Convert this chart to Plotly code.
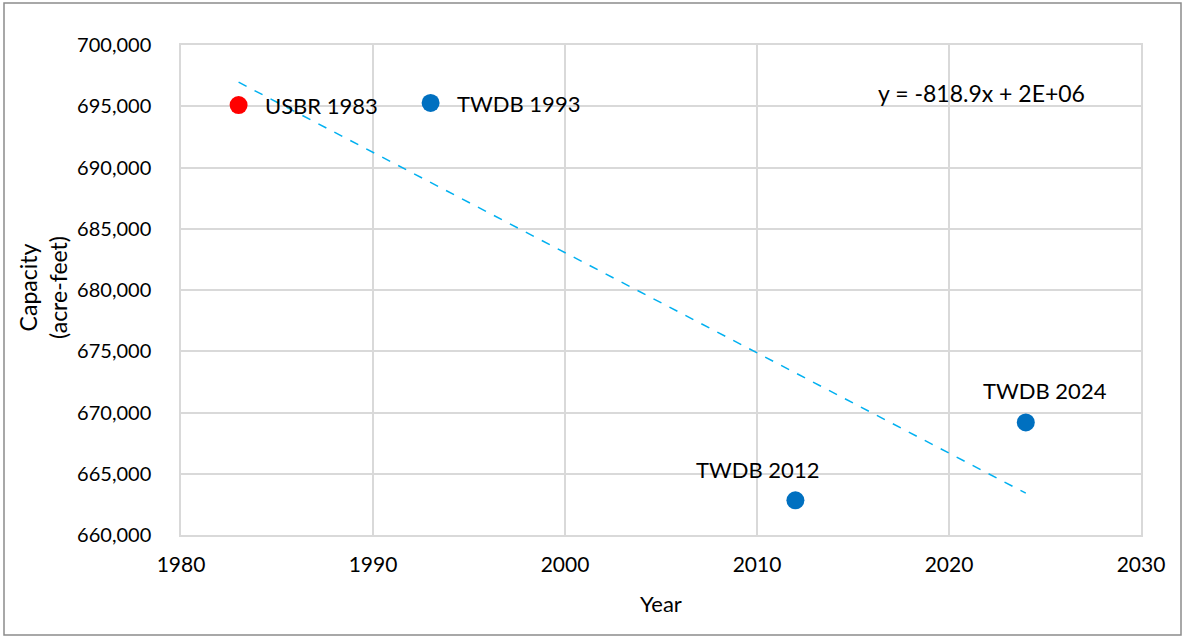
import numpy as np
import plotly.graph_objects as go

labels = ["USBR 1983", "TWDB 1993", "TWDB 2012", "TWDB 2024"]
years = [1983, 1993, 2012, 2024]
capacity = [695100, 695270, 662830, 669190]
colors = ["#FF0000", "#0070C0", "#0070C0", "#0070C0"]
x_ticks = [1980, 1990, 2000, 2010, 2020, 2030]
y_ticks = [660000, 665000, 670000, 675000, 680000, 685000, 690000, 695000, 700000]
equation = "y = -818.9x + 2E+06"

# label placement offsets (pixels): (xanchor, xshift, yshift)
label_style = [("left", 24, 0), ("left", 24, -1), ("center", -38, 31), ("center", 19, 32)]

slope, intercept = np.polyfit(years, capacity, 1)
trend_x = np.array([min(years), max(years)])
trend_y = slope * trend_x + intercept

font = "Lato, 'Open Sans', sans-serif"

L, R, T, B = 181, 42, 45, 102
PW, PH = 1183 - L - R, 637 - T - B

fig = go.Figure()
fig.add_trace(go.Scatter(
    x=trend_x, y=trend_y, mode="lines",
    line=dict(color="#00B0F0", width=1.5, dash="dash"),
    hoverinfo="skip", showlegend=False))
fig.add_trace(go.Scatter(
    x=years, y=capacity, mode="markers",
    marker=dict(size=18, color=colors),
    showlegend=False))

for t, xv, yv, (xa, xs, ys) in zip(labels, years, capacity, label_style):
    fig.add_annotation(x=xv, y=yv, text=t, showarrow=False, xanchor=xa, yanchor="middle",
                       xshift=xs, yshift=ys,
                       font=dict(family=font, size=22, color="#000000"))

fig.add_annotation(x=2021.7, y=696080, text=equation, showarrow=False,
                   xanchor="center", yanchor="middle",
                   font=dict(family=font, size=23, color="#000000"))

# axis titles
fig.add_annotation(xref="paper", yref="paper", x=(43 - L) / PW, y=(T + PH - 288) / PH,
                   text="Capacity<br>(acre-feet)", textangle=-90, showarrow=False,
                   xanchor="center", yanchor="middle",
                   font=dict(family=font, size=23, color="#000000"))
fig.add_annotation(xref="paper", yref="paper", x=(661 - L) / PW, y=-(603 - (T + PH)) / PH,
                   text="Year", showarrow=False, xanchor="center", yanchor="middle",
                   font=dict(family=font, size=22, color="#000000"))

# outer chart border
fig.add_shape(type="rect", xref="paper", yref="paper",
              x0=(4 - L) / PW, x1=(1181 - L) / PW,
              y0=((T + PH) - 635) / PH, y1=((T + PH) - 3) / PH,
              line=dict(color="#8C8C8C", width=1.5), fillcolor="rgba(0,0,0,0)", layer="below")

fig.update_layout(
    width=1183, height=637,
    margin=dict(l=L, r=R, t=T, b=B, autoexpand=False),
    paper_bgcolor="white", plot_bgcolor="white",
    font=dict(family=font, size=20, color="#000000"),
    xaxis=dict(range=[1980, 2030], tickvals=x_ticks, showgrid=True,
               gridcolor="#D9D9D9", gridwidth=1.5, zeroline=False,
               showline=True, linecolor="#D9D9D9", linewidth=1.5, mirror=True,
               ticks="outside", ticklen=10, tickcolor="rgba(0,0,0,0)",
               automargin=False, tickfont=dict(size=21)),
    yaxis=dict(range=[660000, 700000], tickvals=y_ticks, tickformat=",d",
               showgrid=True, gridcolor="#D9D9D9", gridwidth=1.5, zeroline=False,
               showline=True, linecolor="#D9D9D9", linewidth=1.5, mirror=True,
               ticks="outside", ticklen=24, tickcolor="rgba(0,0,0,0)",
               automargin=False, tickfont=dict(size=20)),
)

fig.write_html("out.html", config={"displayModeBar": False},
               post_script="document.body.style.margin='0';document.body.style.overflow='hidden';")
